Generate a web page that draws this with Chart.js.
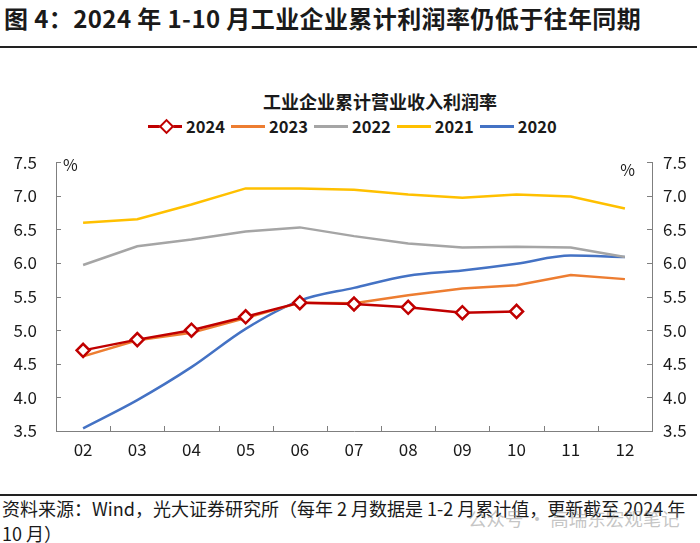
<!DOCTYPE html>
<html>
<head>
<meta charset="utf-8">
<script src="https://cdn.jsdelivr.net/npm/chart.js@4/dist/chart.umd.min.js"></script>
<style>
body{margin:0;width:700px;height:543px;background:#fff;font-family:"Noto Sans CJK SC","Noto Sans",sans-serif;color:#1a1a1a;position:relative;overflow:hidden}
.abs{position:absolute}
#title{left:4px;top:1px;font-size:24px;letter-spacing:0.4px;font-weight:bold;white-space:nowrap;line-height:34px}
.rule{left:0;width:697px;height:2px;background:#222}
#ctitle{left:263px;top:88px;font-size:18px;font-weight:bold;white-space:nowrap;line-height:26px}
#legend{left:148px;top:113px;display:flex;align-items:center;font-size:16.5px;font-weight:bold;line-height:26px;white-space:nowrap}
.item{display:flex;align-items:center;margin-right:6px}
.swatch{position:relative;width:34px;height:3px;margin-right:4px}
.dia{position:absolute;left:13px;top:-4px;width:7px;height:7px;border:2px solid #C00000;background:#fff;transform:rotate(45deg)}
#wrap{left:0;top:133px;width:700px;height:357px}
#source{left:2px;top:496px;font-size:18px;line-height:25px;white-space:nowrap}
#mark{left:468px;top:505px;font-size:18.5px;color:rgba(140,140,140,0.5);white-space:nowrap}
</style>
</head>
<body>
<div id="title" class="abs">图 4：2024 年 1-10 月工业企业累计利润率仍低于往年同期</div>
<div class="abs rule" style="top:46px"></div>
<div id="ctitle" class="abs">工业企业累计营业收入利润率</div>
<div id="legend" class="abs"></div>
<div id="wrap" class="abs"><canvas id="chart"></canvas></div>
<div class="abs rule" style="top:494px"></div>
<div id="source" class="abs">资料来源：Wind，光大证券研究所（每年 2 月数据是 1-2 月累计值，更新截至 2024 年<br>10 月）</div>
<div id="mark" class="abs">公众号 · 高瑞东宏观笔记</div>
<script>
// 月份（2月为1-2月累计）
var months = ['02','03','04','05','06','07','08','09','10','11','12'];
var years = ['2024','2023','2022','2021','2020'];
var colores = ['#C00000','#ED7D31','#A5A5A5','#FFC000','#4472C4'];

var rate2024 = [4.70,4.86,5.00,5.20,5.41,5.39,5.34,5.26,5.28];
var rate2023 = [4.61,4.85,4.96,5.18,5.41,5.40,5.52,5.62,5.67,5.82,5.76];
var rate2022 = [5.97,6.25,6.35,6.47,6.53,6.40,6.29,6.23,6.24,6.23,6.09];
var rate2021 = [6.60,6.65,6.87,7.11,7.11,7.09,7.02,6.97,7.02,6.99,6.81];
var rate2020 = [3.54,3.96,4.45,5.02,5.44,5.63,5.81,5.89,5.99,6.11,6.09];

var yMin = 3.5, yMax = 7.5, yStep = 0.5;
var seriesData = [rate2024, rate2023, rate2022, rate2021, rate2020];

// leyenda en html
var leg = document.getElementById('legend');
years.forEach(function(y, i){
  var it = document.createElement('div');
  it.className = 'item';
  var sw = document.createElement('div');
  sw.className = 'swatch';
  sw.style.background = colores[i];
  if (i === 0) {
    var d = document.createElement('div');
    d.className = 'dia';
    sw.appendChild(d);
  }
  it.appendChild(sw);
  it.appendChild(document.createTextNode(y));
  leg.appendChild(it);
});

var axisColor = '#7f7f7f';
var tickFont = {family: '"Noto Sans CJK SC"', size: 17};

// ticks hacia adentro + simbolo %
var innerTicks = {
  id: 'innerTicks',
  afterDraw: function(chart){
    var ctx = chart.ctx, a = chart.chartArea;
    var x = chart.scales.x, yl = chart.scales.y, yr = chart.scales.y1;
    ctx.save();
    ctx.strokeStyle = axisColor;
    ctx.lineWidth = 1;
    ctx.beginPath();
    yl.ticks.forEach(function(t){
      var py = Math.round(yl.getPixelForValue(t.value)) + 0.5;
      ctx.moveTo(a.left, py); ctx.lineTo(a.left + 5, py);
      ctx.moveTo(a.right, py); ctx.lineTo(a.right - 5, py);
    });
    var half = (x.getPixelForValue(1) - x.getPixelForValue(0)) / 2;
    for (var i = 0; i <= months.length; i++) {
      var px = Math.round(x.getPixelForValue(i) - half) + 0.5;
      ctx.moveTo(px, a.bottom); ctx.lineTo(px, a.bottom - 5);
    }
    ctx.stroke();
    ctx.fillStyle = '#1a1a1a';
    ctx.font = '16px "Noto Sans CJK SC"';
    ctx.textBaseline = 'middle';
    ctx.textAlign = 'left';
    ctx.fillText('%', a.left + 7, yl.getPixelForValue(yMax) + 3);
    ctx.textAlign = 'right';
    ctx.fillText('%', a.right - 17, yr.getPixelForValue(yMax) + 8);
    ctx.restore();
  }
};

var config = {
  type: 'line',
  data: {
    labels: months,
    datasets: years.map(function(y, i){
      return {
        label: y,
        data: seriesData[i],
        borderColor: colores[i],
        backgroundColor: colores[i],
        borderWidth: 2.5,
        tension: i === 4 ? 0.4 : 0,
        cubicInterpolationMode: i === 4 ? 'monotone' : 'default',
        pointRadius: i === 0 ? 6.5 : 0,
        pointStyle: 'rectRot',
        pointBackgroundColor: '#fff',
        pointBorderColor: colores[i],
        pointBorderWidth: 2.5,
        yAxisID: 'y'
      };
    })
  },
  options: {
    responsive: true,
    maintainAspectRatio: false,
    animation: false,
    layout: {padding: {top: 18, bottom: 0, left: 0, right: 0}},
    plugins: {legend: {display: false}, title: {display: false}, tooltip: {enabled: false}},
    scales: {
      x: {
        offset: true,
        grid: {display: true, drawOnChartArea: false, drawTicks: false, offset: true},
        border: {display: true, color: axisColor, width: 1},
        ticks: {font: tickFont, color: '#1a1a1a', padding: 8, maxRotation: 0, autoSkip: false},
        afterFit: function(s){ s.height = 59; }
      },
      y: {
        position: 'left',
        min: yMin, max: yMax,
        grid: {display: true, drawOnChartArea: false, drawTicks: false},
        border: {display: true, color: axisColor, width: 1},
        ticks: {stepSize: yStep, font: tickFont, color: '#1a1a1a', padding: 19,
          callback: function(v){ return Number(v).toFixed(1); }},
        afterFit: function(s){ s.width = 56; }
      },
      y1: {
        position: 'right',
        min: yMin, max: yMax,
        grid: {display: true, drawOnChartArea: false, drawTicks: false},
        border: {display: true, color: axisColor, width: 1},
        ticks: {stepSize: yStep, font: tickFont, color: '#1a1a1a', padding: 11,
          callback: function(v){ return Number(v).toFixed(1); }},
        afterFit: function(s){ s.width = 48; }
      }
    }
  },
  plugins: [innerTicks]
};

window.myLine = new Chart(document.getElementById('chart'), config);
</script>
</body>
</html>
